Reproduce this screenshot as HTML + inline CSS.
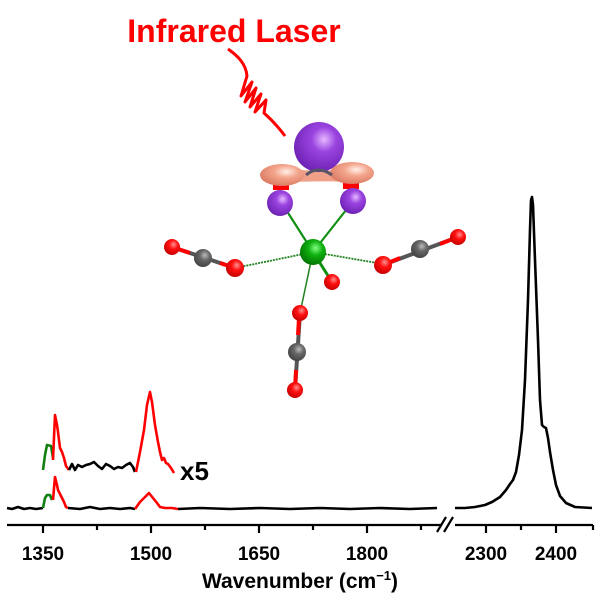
<!DOCTYPE html>
<html><head><style>
html,body{margin:0;padding:0;background:#fff;}
svg{display:block;}
text{font-family:"Liberation Sans",Arial,sans-serif;font-weight:bold;}
</style></head><body>
<svg width="600" height="601" viewBox="0 0 600 601" xmlns="http://www.w3.org/2000/svg">
<defs>
<radialGradient id="pu" cx="0.6" cy="0.35" r="0.7"><stop offset="0" stop-color="#e8b8ff"/><stop offset="0.35" stop-color="#9a44e0"/><stop offset="1" stop-color="#6a1fb0"/></radialGradient>
<radialGradient id="pk" cx="0.6" cy="0.35" r="0.7"><stop offset="0" stop-color="#fff0e8"/><stop offset="0.4" stop-color="#f4a58c"/><stop offset="1" stop-color="#d87860"/></radialGradient>
<radialGradient id="rd" cx="0.6" cy="0.35" r="0.7"><stop offset="0" stop-color="#ff9090"/><stop offset="0.4" stop-color="#ff1010"/><stop offset="1" stop-color="#c00000"/></radialGradient>
<radialGradient id="gy" cx="0.6" cy="0.35" r="0.7"><stop offset="0" stop-color="#bbb"/><stop offset="0.4" stop-color="#666"/><stop offset="1" stop-color="#404040"/></radialGradient>
<radialGradient id="gr" cx="0.6" cy="0.35" r="0.7"><stop offset="0" stop-color="#80ff80"/><stop offset="0.4" stop-color="#10b010"/><stop offset="1" stop-color="#007000"/></radialGradient>
</defs>

<!-- title -->
<text x="234" y="42" font-size="32" fill="#ff0000" text-anchor="middle">Infrared Laser</text>
<!-- wavy laser -->
<path d="M228,49 C238,56 246,64 247,76 L241,96 L252,82 L245,102 L256,88 L250,107 L261,94 L255,112 L266,100 L264,113 C272,120 279,128 285,136" fill="none" stroke="#ff0000" stroke-width="3" stroke-linejoin="round"/>

<!-- molecule bonds -->
<g stroke-width="2.2" fill="none">
<line x1="283" y1="205" x2="313" y2="252" stroke="#109010"/>
<line x1="350" y1="205" x2="313" y2="252" stroke="#109010"/>
<line x1="313" y1="252" x2="332" y2="282" stroke="#109010" stroke-width="3"/>
<line x1="313" y1="252" x2="300" y2="313" stroke="#208020" stroke-width="1.5"/>
<line x1="313" y1="252" x2="240" y2="267" stroke="#208020" stroke-width="1.8" stroke-dasharray="2,1"/>
<line x1="313" y1="252" x2="383" y2="264" stroke="#208020" stroke-width="1.8" stroke-dasharray="2,1"/>
<line x1="172" y1="247" x2="235" y2="268" stroke="#555" stroke-width="4"/>
<line x1="383" y1="265" x2="458" y2="237" stroke="#555" stroke-width="4"/>
<line x1="300" y1="313" x2="295" y2="390" stroke="#555" stroke-width="4"/>
<line x1="172" y1="247" x2="190" y2="253" stroke="#ff0000" stroke-width="4"/>
<line x1="220" y1="263" x2="235" y2="268" stroke="#ff0000" stroke-width="4"/>
<line x1="383" y1="265" x2="400" y2="258" stroke="#ff0000" stroke-width="4"/>
<line x1="440" y1="244" x2="458" y2="237" stroke="#ff0000" stroke-width="4"/>
<line x1="299" y1="318" x2="298" y2="335" stroke="#ff0000" stroke-width="4"/>
<line x1="296" y1="370" x2="295" y2="390" stroke="#ff0000" stroke-width="4"/>
</g>
<!-- pink orbital -->
<rect x="273" y="184" width="16" height="6" fill="#ff0000"/>
<rect x="343" y="183" width="16" height="6" fill="#ff0000"/>
<path d="M282,183 C300,181 330,181 352,182 L352,168 C330,172 300,172 282,166 Z" fill="#f0a088"/>
<ellipse cx="282" cy="175" rx="22" ry="11" fill="url(#pk)"/>
<ellipse cx="352" cy="173" rx="22" ry="11" fill="url(#pk)"/>
<circle cx="319" cy="147" r="25" fill="url(#pu)"/>
<path d="M306,175 Q318,165 332,175" stroke="#556" stroke-width="3" fill="none"/>
<circle cx="280" cy="203" r="13" fill="url(#pu)"/>
<circle cx="353" cy="201" r="13" fill="url(#pu)"/>
<circle cx="313" cy="252" r="13" fill="url(#gr)"/>
<circle cx="332" cy="282" r="8" fill="url(#rd)"/>
<circle cx="172" cy="247" r="8" fill="url(#rd)"/>
<circle cx="203" cy="258" r="9" fill="url(#gy)"/>
<circle cx="235" cy="268" r="9" fill="url(#rd)"/>
<circle cx="383" cy="265" r="9" fill="url(#rd)"/>
<circle cx="420" cy="249" r="9" fill="url(#gy)"/>
<circle cx="458" cy="237" r="8" fill="url(#rd)"/>
<circle cx="300" cy="313" r="8" fill="url(#rd)"/>
<circle cx="297" cy="352" r="9" fill="url(#gy)"/>
<circle cx="295" cy="390" r="8" fill="url(#rd)"/>

<!-- spectra -->
<g fill="none" stroke-width="2.6" stroke-linejoin="round">
<polyline stroke="#108010" points="43,470 45,455 47,445 51,446 53,458"/>
<polyline stroke="#ff0000" points="53,460 55,415 57,425 58,432 60,448 62,452 64,458 66,466 69,470"/>
<polyline stroke="#000" points="69,470 72,464 75,470 78,465 82,467 86,465 90,464 94,462 98,466 102,469 106,464 110,466 114,469 118,467 122,468 126,465 130,463 133,467 135,472"/>
<polyline stroke="#ff0000" points="136,472 140,452 144,430 147,405 150,392 152,402 155,425 158,442 160,452 162,460 164,458 166,463 168,464 171,468 174,473"/>
<polyline stroke="#000" points="7,508 12,509 18,507 24,509 30,508 36,509 43,508"/>
<polyline stroke="#108010" points="43,508 45,498 47,495 50,495 52,500"/>
<polyline stroke="#ff0000" points="53,500 55,477 57,485 58,490 60,494 62,498 64,502 66,507 68,508"/>
<polyline stroke="#000" points="68,508 80,509 90,507 100,509 110,508 120,509 130,508 135,509"/>
<polyline stroke="#ff0000" points="135,509 140,502 145,497 149,493 153,498 157,503 160,507 165,508 172,508 178,509"/>
<polyline stroke="#000" points="178,509 200,508 230,509 260,508 290,509 320,508 350,509 380,508 410,509 437,508"/>
<polyline stroke="#000" points="455,508 465,508 475,507 485,505 492,502 500,497 506,490 510,484 513,480 516,472 519,455 522,430 525,380 528,300 530,230 531,200 532,197 533,205 535,260 538,340 540,400 542,425 544,427 546,428 548,438 550,452 553,470 556,485 560,496 566,503 575,507 592,508"/>
</g>
<text x="180" y="480" font-size="26" fill="#000">x5</text>

<!-- axis -->
<g stroke="#000" stroke-width="2.2">
<line x1="7" y1="525" x2="442" y2="525"/>
<line x1="455" y1="525" x2="593" y2="525"/>
<line x1="43" y1="525" x2="43" y2="533"/>
<line x1="151" y1="525" x2="151" y2="533"/>
<line x1="259" y1="525" x2="259" y2="533"/>
<line x1="367" y1="525" x2="367" y2="533"/>
<line x1="97" y1="525" x2="97" y2="530"/>
<line x1="205" y1="525" x2="205" y2="530"/>
<line x1="313" y1="525" x2="313" y2="530"/>
<line x1="421" y1="525" x2="421" y2="530"/>
<line x1="486" y1="525" x2="486" y2="533"/>
<line x1="556" y1="525" x2="556" y2="533"/>
<line x1="521" y1="525" x2="521" y2="530"/>
<line x1="593" y1="525" x2="593" y2="530"/>
<line x1="437" y1="532" x2="446" y2="517"/>
<line x1="444" y1="532" x2="453" y2="517"/>
</g>
<g font-size="19" fill="#000" text-anchor="middle">
<text x="43" y="560">1350</text>
<text x="151" y="560">1500</text>
<text x="259" y="560">1650</text>
<text x="367" y="560">1800</text>
<text x="486" y="560">2300</text>
<text x="556" y="560">2400</text>
</g>
<text x="300" y="588" font-size="21" fill="#000" text-anchor="middle">Wavenumber (cm<tspan font-size="13" dy="-8">−1</tspan><tspan dy="8">)</tspan></text>
</svg>
</body></html>
